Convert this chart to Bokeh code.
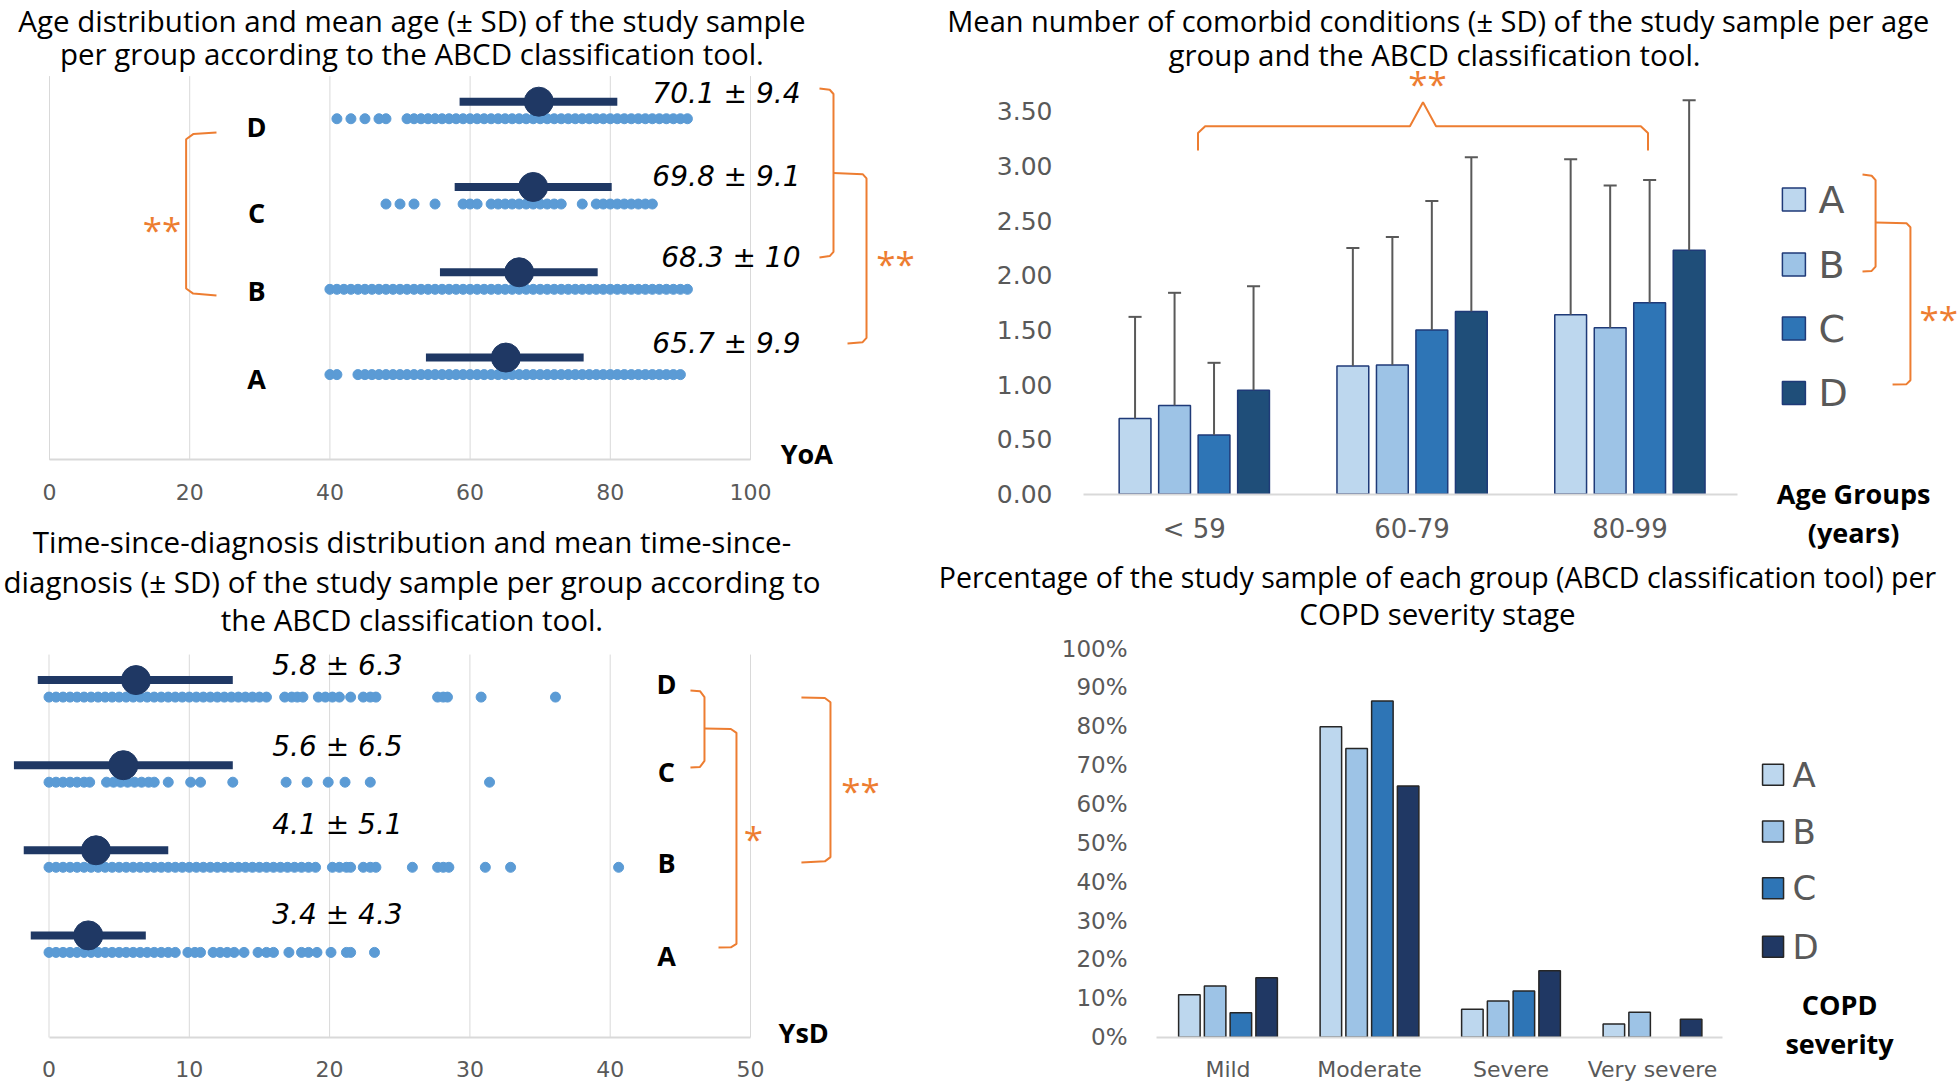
from bokeh.plotting import figure
from bokeh.layouts import row, column
from bokeh.models import ColumnDataSource, FixedTicker, Label, PrintfTickFormatter, Range1d
from bokeh.transform import dodge
from bokeh.embed import file_html
from bokeh.resources import INLINE

# ---------------- data ----------------
groups = ["A", "B", "C", "D"]

# Panel 1: age (years) of each patient per group
age_A = [40, 41, 44, 45, 46, 47, 48, 49, 50, 51, 52, 53, 54, 55, 56, 57, 58, 59, 60, 61, 62, 63, 64,
         65, 66, 67, 68, 69, 70, 71, 72, 73, 74, 75, 76, 77, 78, 79, 80, 81, 82, 83, 84, 85, 86, 87,
         88, 89, 90]
age_B = [40, 41, 42, 43, 44, 45, 46, 47, 48, 49, 50, 51, 52, 53, 54, 55, 56, 57, 58, 59, 60, 61, 62,
         63, 64, 65, 66, 67, 68, 69, 70, 71, 72, 73, 74, 75, 76, 77, 78, 79, 80, 81, 82, 83, 84, 85,
         86, 87, 88, 89, 90, 91]
age_C = [48, 50, 52, 55, 59, 60, 61, 63, 64, 65, 66, 67, 68, 69, 70, 71, 72, 73, 76, 78, 79, 80, 81,
         82, 83, 84, 85, 86]
age_D = [41, 43, 45, 47, 48, 51, 52, 53, 54, 55, 56, 57, 58, 59, 60, 61, 62, 63, 64, 65, 66, 67, 68,
         69, 70, 71, 72, 73, 74, 75, 76, 77, 78, 79, 80, 81, 82, 83, 84, 85, 86, 87, 88, 89, 90, 91]
age_mean = [65.1, 67.0, 69.0, 69.8]          # plotted mean marker
age_bar_lo = [53.7, 55.7, 57.8, 58.5]        # plotted SD bar ends
age_bar_hi = [76.2, 78.2, 80.2, 81.0]
age_text = ["65.7 ± 9.9", "68.3 ± 10", "69.8 ± 9.1", "70.1 ± 9.4"]
age_ticks = [0, 20, 40, 60, 80, 100]

# Panel 2: years since diagnosis per group
ysd_A = [0, 0.5, 1, 1.5, 2, 2.5, 3, 3.5, 4, 4.5, 5, 5.5, 6, 6.5, 7, 7.5, 8, 8.5, 9, 9.9, 10.4, 10.8,
         11.7, 12.2, 12.7, 13.2, 13.9, 14.9, 15.5, 16.0, 17.1, 18.0, 18.5, 19.1, 20.1, 21.2, 21.5,
         23.2]
ysd_B = [0, 0.5, 1, 1.5, 2, 2.5, 3, 3.5, 4, 4.5, 5, 5.5, 6, 6.5, 7, 7.5, 8, 8.5, 9, 9.5, 10, 10.5,
         11, 11.5, 12, 12.5, 13, 13.5, 14, 14.5, 15, 15.5, 16, 16.5, 17, 17.5, 18, 18.5, 19, 20.2,
         20.7, 21.2, 21.5, 22.4, 22.9, 23.3, 25.9, 27.7, 28.1, 28.5, 31.1, 32.9, 40.6]
ysd_C = [0, 0.5, 1, 1.5, 2, 2.5, 2.9, 4.1, 4.6, 5.1, 5.6, 6.1, 6.6, 7.1, 7.5, 8.5, 10.1, 10.8, 13.1,
         16.9, 18.4, 19.9, 21.1, 22.9, 31.4]
ysd_D = [0, 0.5, 1, 1.5, 2, 2.5, 3, 3.5, 4, 4.5, 5, 5.5, 6, 6.5, 7, 7.5, 8, 8.5, 9, 9.5, 10, 10.5,
         11, 11.5, 12, 12.5, 13, 13.5, 14, 14.5, 15, 15.5, 16.8, 17.3, 17.7, 18.1, 19.2, 19.7, 20.2,
         20.7, 21.5, 22.4, 22.9, 23.3, 27.7, 28.1, 28.4, 30.8, 36.1]
ysd_mean = [2.8, 3.35, 5.3, 6.2]
ysd_bar_lo = [-1.3, -1.8, -2.5, -0.8]
ysd_bar_hi = [6.9, 8.5, 13.1, 13.1]
ysd_text = ["3.4 ± 4.3", "4.1 ± 5.1", "5.6 ± 6.5", "5.8 ± 6.3"]
ysd_ticks = [0, 10, 20, 30, 40, 50]

# Panel 3: mean number of comorbid conditions (+ SD) per age group
age_groups = ["< 59", "60-79", "80-99"]
como_A = [0.69, 1.17, 1.64]
como_B = [0.81, 1.18, 1.52]
como_C = [0.54, 1.50, 1.75]
como_D = [0.95, 1.67, 2.23]
como_sd_A = [0.93, 1.08, 1.42]
como_sd_B = [1.03, 1.17, 1.30]
como_sd_C = [0.66, 1.18, 1.12]
como_sd_D = [0.95, 1.41, 1.37]
como_ticks = [0, 0.5, 1.0, 1.5, 2.0, 2.5, 3.0, 3.5]

# Panel 4: % of each group per COPD severity stage
severity = ["Mild", "Moderate", "Severe", "Very severe"]
pct_A = [10.9, 79.9, 7.2, 3.4]
pct_B = [13.2, 74.3, 9.3, 6.4]
pct_C = [6.3, 86.5, 11.9, 0.0]
pct_D = [15.3, 64.6, 17.1, 4.6]
pct_ticks = [0, 10, 20, 30, 40, 50, 60, 70, 80, 90, 100]

# ---------------- styling ----------------
FONT = "Open Sans"
WIDE = "DejaVu Sans"
NAVY = "#1F3864"
DOT = "#5B9BD5"
ORANGE = "#ED7D31"
GRID = "#D9D9D9"
TICK = "#595959"
TR_COLORS = ["#BDD7EE", "#9DC3E6", "#2E75B6", "#1F4E79"]
BR_COLORS = ["#BDD7EE", "#9DC3E6", "#2E75B6", "#203864"]
TSIZE = 29.5
AST_OFF = -3


def xr(left, right, px0, s):
    return Range1d((left - px0) / s, (right - px0) / s)


def yr(top, bottom, px0, s):
    return Range1d((px0 - bottom) / s, (px0 - top) / s)


def make_fig(w, h, x_range, y_range, y_axis=False):
    p = figure(width=w, height=h, x_range=x_range, y_range=y_range, output_backend="svg",
               toolbar_location=None, title=None,
               y_axis_location="left" if y_axis else None,
               min_border=0, min_border_left=0, min_border_right=0,
               min_border_top=0, min_border_bottom=0)
    p.outline_line_color = None
    p.xgrid.visible = False
    p.ygrid.visible = False
    p.background_fill_color = "white"
    p.border_fill_color = "white"
    return p


def style_xaxis(p, ticks, bounds, size, standoff):
    ax = p.xaxis[0]
    ax.fixed_location = 0
    ax.ticker = FixedTicker(ticks=ticks)
    ax.bounds = bounds
    ax.axis_line_color = GRID
    ax.axis_line_width = 2
    ax.major_tick_line_color = None
    ax.minor_tick_line_color = None
    ax.major_label_text_font = WIDE
    ax.major_label_text_font_size = f"{size}px"
    ax.major_label_text_color = TICK
    ax.major_label_standoff = standoff


def style_yaxis(p, loc, ticks, fmt, size):
    ya = p.yaxis[0]
    ya.fixed_location = loc
    ya.ticker = FixedTicker(ticks=ticks)
    ya.formatter = PrintfTickFormatter(format=fmt)
    ya.axis_line_color = None
    ya.major_tick_line_color = None
    ya.minor_tick_line_color = None
    ya.major_label_text_font = WIDE
    ya.major_label_text_font_size = f"{size}px"
    ya.major_label_text_color = TICK
    ya.major_label_standoff = 8


def txt(p, x, y, s, size, color="black", align="center", style="normal", yoff=0, font=FONT):
    p.add_layout(Label(x=x, y=y, text=s, text_font=font, text_font_size=f"{size}px",
                       text_color=color, text_align=align, text_baseline="middle",
                       text_font_style=style, y_offset=yoff))


def path(p, xs, ys):
    p.line(xs, ys, line_color=ORANGE, line_width=2)


rows = [1, 2, 3, 4]

# ================= Panel 1 (top left) =================
p1 = make_fig(938, 515, xr(0, 938, 49, 7.01), yr(0, 515, 459.4, 85.29))
p1.segment(x0=age_ticks, y0=0, x1=age_ticks, y1=4.5, line_color=GRID, line_width=1)
style_xaxis(p1, age_ticks, (0, 100), 22, 18)
for r, vals in zip(rows, [age_A, age_B, age_C, age_D]):
    p1.scatter(vals, [r] * len(vals), size=10, color=DOT)
my1 = [r + 0.2 for r in rows]
p1.segment(x0=age_bar_lo, y0=my1, x1=age_bar_hi, y1=my1, line_color=NAVY, line_width=8)
p1.scatter(age_mean, my1, size=29, color=NAVY)
for g, ly in zip(groups, [0.96, 1.99, 2.9, 3.91]):
    txt(p1, 29.53, ly, g, 27, style="bold")
for t, ly in zip(age_text, [1.37, 2.37, 3.32, 4.30]):
    txt(p1, 107.13, ly, t, 28, align="right", style="italic", font=WIDE)
txt(p1, 51.7, 5.152, "Age distribution and mean age (± SD) of the study sample", TSIZE)
txt(p1, 51.7, 4.765, "per group according to the ABCD classification tool.", TSIZE)
txt(p1, 104.3, 0.075, "YoA", 27, align="left", style="bold")
path(p1, [23.82, 20.5, 19.49, 19.49, 20.5, 23.82], [3.839, 3.82, 3.76, 2.01, 1.95, 1.928])
txt(p1, 16.05, 2.742, "**", 35, color=ORANGE, yoff=AST_OFF)
path(p1, [109.84, 111.3, 111.84, 111.84, 111.3, 109.84], [4.355, 4.34, 4.29, 2.44, 2.39, 2.373])
path(p1, [111.84, 116.0, 116.55, 116.55, 116.0, 113.84], [3.364, 3.35, 3.30, 1.43, 1.38, 1.365])
txt(p1, 120.68, 2.338, "**", 35, color=ORANGE, yoff=AST_OFF)

# ================= Panel 2 (bottom left) =================
p2 = make_fig(938, 567, xr(0, 938, 48.5, 14.03), yr(515, 1082, 1037, 85.1))
p2.segment(x0=ysd_ticks, y0=0, x1=ysd_ticks, y1=4.5, line_color=GRID, line_width=1)
style_xaxis(p2, ysd_ticks, (0, 50), 22, 17)
for r, vals in zip(rows, [ysd_A, ysd_B, ysd_C, ysd_D]):
    p2.scatter(vals, [r] * len(vals), size=10, color=DOT)
my2 = [r + 0.2 for r in rows]
p2.segment(x0=ysd_bar_lo, y0=my2, x1=ysd_bar_hi, y1=my2, line_color=NAVY, line_width=8)
p2.scatter(ysd_mean, my2, size=29, color=NAVY)
for g, ly in zip(groups, [0.964, 2.056, 3.126, 4.16]):
    txt(p2, 44.01, ly, g, 27, style="bold")
for t, ly in zip(ysd_text, [1.445, 2.503, 3.414, 4.371]):
    txt(p2, 20.56, ly, t, 28, style="italic", font=WIDE)
txt(p2, 25.87, 5.823, "Time-since-diagnosis distribution and mean time-since-", TSIZE)
txt(p2, 25.87, 5.358, "diagnosis (± SD) of the study sample per group according to", TSIZE)
txt(p2, 25.87, 4.917, "the ABCD classification tool.", TSIZE)
txt(p2, 52.0, 0.053, "YsD", 27, align="left", style="bold")
path(p2, [45.72, 46.4, 46.72, 46.72, 46.4, 45.72], [4.078, 4.07, 4.0, 3.25, 3.18, 3.173])
path(p2, [46.72, 48.6, 49.0, 49.0, 48.6, 47.72], [3.631, 3.625, 3.58, 1.10, 1.06, 1.058])
txt(p2, 50.21, 2.374, "*", 35, color=ORANGE, yoff=AST_OFF)
path(p2, [53.63, 55.3, 55.70, 55.70, 55.3, 53.63], [3.995, 3.99, 3.94, 2.12, 2.07, 2.056])
txt(p2, 57.84, 2.938, "**", 35, color=ORANGE, yoff=AST_OFF)

# ================= Panel 3 (top right) =================
p3 = make_fig(1022, 550, xr(938, 1960, 1193.8, 217.8), yr(0, 550, 493.6, 109.4), y_axis=True)
style_xaxis(p3, [0, 1, 2], (-0.509, 2.494), 26, 14)
p3.xaxis[0].major_label_overrides = {i: g for i, g in enumerate(age_groups)}
style_yaxis(p3, -0.587, como_ticks, "%.2f", 25)

src3 = ColumnDataSource(dict(
    x=[0, 1, 2],
    A=como_A, B=como_B, C=como_C, D=como_D,
    At=[m + s for m, s in zip(como_A, como_sd_A)],
    Bt=[m + s for m, s in zip(como_B, como_sd_B)],
    Ct=[m + s for m, s in zip(como_C, como_sd_C)],
    Dt=[m + s for m, s in zip(como_D, como_sd_D)],
))
offs3 = [-0.272, -0.0906, 0.0906, 0.272]
for g, off, col in zip(groups, offs3, TR_COLORS):
    p3.vbar(x=dodge("x", off), top=g, bottom=0, width=0.146, source=src3,
            fill_color=col, line_color="#1F3A78", line_width=1.5)
for g, off in zip(groups, offs3):
    p3.segment(x0=dodge("x", off), y0=g, x1=dodge("x", off), y1=g + "t", source=src3,
               line_color=TICK, line_width=2)
    p3.segment(x0=dodge("x", off - 0.03), y0=g + "t", x1=dodge("x", off + 0.03), y1=g + "t",
               source=src3, line_color=TICK, line_width=2)
# legend
leg_y3 = [2.692, 2.098, 1.513, 0.924]
p3.scatter([2.753] * 4, leg_y3, marker="square", size=23, fill_color=TR_COLORS,
           line_color="#1F3A78", line_width=1.5)
for g, ly in zip(groups, leg_y3):
    txt(p3, 2.866, ly, g, 38, color=TICK, align="left", font=WIDE)
txt(p3, 1.12, 4.329, "Mean number of comorbid conditions (± SD) of the study sample per age", 29)
txt(p3, 1.103, 4.018, "group and the ABCD classification tool.", TSIZE)
txt(p3, 3.027, 0.005, "Age Groups", 27, style="bold")
txt(p3, 3.027, -0.351, "(years)", 27, style="bold")
path(p3, [0.017, 0.017, 0.05, 0.99, 1.05, 1.11, 2.05, 2.083, 2.083],
     [3.141, 3.30, 3.363, 3.363, 3.581, 3.363, 3.363, 3.30, 3.141])
txt(p3, 1.071, 3.781, "**", 35, color=ORANGE, yoff=AST_OFF)
path(p3, [3.068, 3.11, 3.128, 3.128, 3.11, 3.068], [2.921, 2.91, 2.87, 2.08, 2.04, 2.035])
path(p3, [3.128, 3.27, 3.288, 3.288, 3.27, 3.206], [2.483, 2.475, 2.44, 1.04, 1.005, 1.001])
txt(p3, 3.418, 1.632, "**", 35, color=ORANGE, yoff=AST_OFF)

# ================= Panel 4 (bottom right) =================
p4 = make_fig(1022, 532, xr(938, 1960, 1227.5, 141.5), yr(550, 1082, 1036.7, 3.887), y_axis=True)
style_xaxis(p4, [0, 1, 2, 3], (-0.505, 3.495), 22, 14)
p4.xaxis[0].major_label_overrides = {i: s for i, s in enumerate(severity)}
style_yaxis(p4, -0.611, pct_ticks, "%d%%", 23)

src4 = ColumnDataSource(dict(
    x=[0, 1, 2, 3], A=pct_A, B=pct_B, C=pct_C, D=pct_D,
    Aa=[1 if v > 0 else 0 for v in pct_A], Ba=[1 if v > 0 else 0 for v in pct_B],
    Ca=[1 if v > 0 else 0 for v in pct_C], Da=[1 if v > 0 else 0 for v in pct_D],
))
offs4 = [-0.273, -0.091, 0.091, 0.273]
for g, off, col in zip(groups, offs4, BR_COLORS):
    p4.vbar(x=dodge("x", off), top=g, bottom=0, width=0.152, source=src4,
            fill_color=col, line_color="#262626", line_width=1.5, line_alpha=g + "a")
leg_y4 = [67.5, 52.9, 38.3, 23.3]
p4.scatter([3.852] * 4, leg_y4, marker="square", size=21, fill_color=BR_COLORS,
           line_color="#262626", line_width=1.5)
for g, ly in zip(groups, leg_y4):
    txt(p4, 3.99, ly, g, 34, color=TICK, align="left", font=WIDE)
txt(p4, 1.4806, 118.37, "Percentage of the study sample of each group (ABCD classification tool) per", 28.5)
txt(p4, 1.4806, 109.0, "COPD severity stage", TSIZE)
txt(p4, 4.322, 8.41, "COPD", 27, style="bold")
txt(p4, 4.322, -1.62, "severity", 27, style="bold")

layout = row(column(p1, p2), column(p3, p4))
open("out.html", "w").write(file_html(layout, INLINE))
